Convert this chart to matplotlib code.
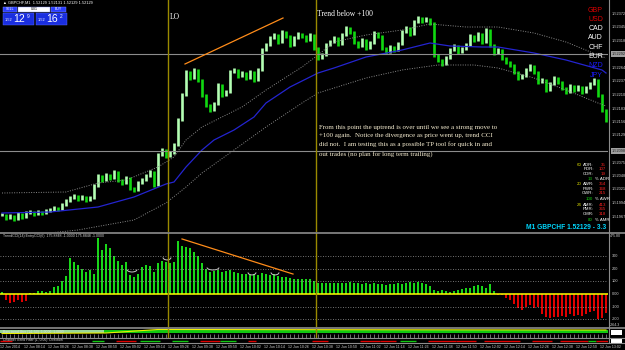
import numpy as np
import matplotlib.pyplot as plt
from matplotlib.patches import Rectangle, Arc
from matplotlib.lines import Line2D
from matplotlib.transforms import blended_transform_factory

plt.rcParams['font.family'] = ['Liberation Sans', 'DejaVu Sans']

W, H = 625, 350

# close prices, one bar every 4 px of the reference
closes = [
    1.51970, 1.51964, 1.51968, 1.51962, 1.51972, 1.51966, 1.51974, 1.51976, 1.51972, 1.51976,
    1.51974, 1.51978, 1.51980, 1.51984, 1.51982, 1.51990, 1.51998, 1.52004, 1.52008, 1.52002,
    1.52006, 1.52000, 1.52004, 1.52028, 1.52048, 1.52040, 1.52050, 1.52044, 1.52056, 1.52040,
    1.52034, 1.52044, 1.52024, 1.52020, 1.52034, 1.52040, 1.52048, 1.52056, 1.52030, 1.52090,
    1.52100, 1.52088, 1.52094, 1.52110, 1.52160, 1.52210, 1.52256, 1.52244, 1.52260, 1.52240,
    1.52210, 1.52190, 1.52180, 1.52192, 1.52230, 1.52210, 1.52216, 1.52256, 1.52260, 1.52248,
    1.52254, 1.52244, 1.52256, 1.52240, 1.52260, 1.52300, 1.52310, 1.52324, 1.52330, 1.52316,
    1.52336, 1.52328, 1.52310, 1.52324, 1.52332, 1.52328, 1.52320, 1.52330, 1.52304, 1.52284,
    1.52290, 1.52310, 1.52316, 1.52324, 1.52312, 1.52330, 1.52344, 1.52336, 1.52316, 1.52308,
    1.52320, 1.52304, 1.52314, 1.52334, 1.52328, 1.52304, 1.52296, 1.52306, 1.52300, 1.52312,
    1.52336, 1.52344, 1.52332, 1.52356, 1.52364, 1.52358, 1.52362, 1.52354, 1.52290, 1.52280,
    1.52272, 1.52284, 1.52300, 1.52308, 1.52296, 1.52302, 1.52310, 1.52328, 1.52320, 1.52332,
    1.52316, 1.52340, 1.52310, 1.52294, 1.52300, 1.52284, 1.52276, 1.52270, 1.52256, 1.52244,
    1.52248, 1.52260, 1.52268, 1.52256, 1.52236, 1.52240, 1.52220, 1.52232, 1.52244, 1.52236,
    1.52224, 1.52216, 1.52228, 1.52220, 1.52226, 1.52216, 1.52224, 1.52232, 1.52240, 1.52210,
    1.52180, 1.52160,
]

ma_idx = [0, 12, 24, 33, 41, 43, 46, 50, 53, 58, 63, 66, 72, 79, 83, 91, 100, 107, 112, 120, 124, 133, 141, 150, 151]
ma_price = [1.51974, 1.51976, 1.51986, 1.52006, 1.52032, 1.52036, 1.52066, 1.52100, 1.52120, 1.52140,
            1.52166, 1.52194, 1.52226, 1.52254, 1.52264, 1.52286, 1.52300, 1.52314, 1.52308, 1.52306,
            1.52306, 1.52294, 1.52280, 1.52260, 1.52254]

upper_idx = [0, 16, 24, 31, 39, 43, 46, 50, 55, 60, 66, 75, 79, 83, 91, 100, 107, 116, 124, 133, 141, 149, 151]
upper_price = [1.52014, 1.52016, 1.52034, 1.52040, 1.52066, 1.52086, 1.52120, 1.52146, 1.52166, 1.52186,
               1.52220, 1.52266, 1.52290, 1.52316, 1.52330, 1.52340, 1.52352, 1.52346, 1.52346, 1.52334,
               1.52316, 1.52290, 1.52284]

lower_idx = [0, 19, 33, 41, 46, 50, 58, 66, 75, 79, 83, 91, 100, 109, 118, 124, 133, 141, 149, 151]
lower_price = [1.51924, 1.51940, 1.51960, 1.51994, 1.52026, 1.52054, 1.52100, 1.52146, 1.52194, 1.52214,
               1.52224, 1.52244, 1.52260, 1.52270, 1.52270, 1.52264, 1.52244, 1.52220, 1.52194, 1.52188]

cci = [
    15, -50, -70, -60, -45, -65, -55, 10, 5, 25, 20, 15, 20, 55, 60, 100, 140, 280, 250, 230,
    200, 170, 190, 160, 440, 350, 390, 360, 300, 260, 230, 250, 150, 130, 160, 210, 230, 220, 170, 240,
    260, 250, 240, 250, 420, 380, 370, 360, 330, 300, 240, 200, 170, 180, 185, 175, 180, 185, 170, 165,
    160, 160, 150, 160, 150, 165, 160, 150, 155, 140, 130, 135, 125, 115, 120, 115, 120, 118, 100, 90,
    85, 90, 85, 90, 85, 90, 85, 95, 90, 85, 80, 85, 80, 85, 75, 80, 70, 75, 80, 85,
    80, 90, 95, 90, 95, 90, 80, 60, 30, 20, 30, 25, 15, 20, 30, 40, 50, 45, 60, 70,
    65, 50, 80, 20, -5, -10, -30, -50, -80, -110, -130, -100, -90, -110, -100, -160, -185, -190, -180, -185,
    -170, -185, -160, -175, -165, -170, -160, -140, -135, -200, -190, -150,
]

price_ticks = [1.52372, 1.52345, 1.52318, 1.52264, 1.52237, 1.52210, 1.52183, 1.52156,
               1.52129, 1.52075, 1.52048, 1.52021, 1.51994, 1.51967]
price_lines = [1.52292, 1.52098]
cci_levels = [300, 200, 100, -100, -200]
session_lines = [41.5, 78.5]

price_trend_x, price_trend_y = [45.75, 70.25], [1.52272, 1.52364]
cci_trend_x, cci_trend_y = [45, 72.75], [433, 157]
price_smiles = [(32.75, 1.52016, 3.75), (41.25, 1.52078, 2.5), (52, 1.52176, 6.25),
                (55.75, 1.52206, 2), (62.75, 1.52236, 3), (68.75, 1.52296, 2.5)]
cci_smiles = [(32.5, 173, 2.5), (41.25, 268, 2), (52.75, 189, 3), (62.5, 150, 2), (68.25, 150, 2)]

currencies = ['GBP', 'USD', 'CAD', 'AUD', 'CHF', 'EUR', 'NZD', 'JPY']
currency_colors = ['#e00000', '#e00000', 'white', 'white', 'white', 'white', '#1a1aff', '#1a1aff']

range_rows = [('60', 'ADR:', '35'), ('', 'PDR:', '107'), ('', 'CDR:', '19'), ('13', '% ADR', ''),
              ('20', 'AWR:', '354'), ('', 'PWR:', '168'), ('', 'CWR:', '215'), ('100', '% AWR', ''),
              ('24', 'AMR:', '413'), ('', 'PMR:', '365'), ('', 'CMR:', '318'), ('80', '% AMR', '')]

signal_runs = [(0, 2, -1), (23, 25, 1), (29, 33, -1), (35, 39, 1), (43, 46, 1), (50, 54, -1),
               (55, 58, 1), (62, 63, -1), (78, 81, -1), (90, 94, -1), (95, 98, -1), (100, 103, 1),
               (107, 113, -1), (114, 118, -1), (121, 129, -1), (133, 137, -1), (140, 146, -1),
               (147, 148, 1), (149, 151, -1)]

time_labels = ['12 Jun 2014', '12 Jun 08:14', '12 Jun 08:26', '12 Jun 08:38', '12 Jun 08:50',
               '12 Jun 09:02', '12 Jun 09:14', '12 Jun 09:26', '12 Jun 09:38', '12 Jun 09:50',
               '12 Jun 10:02', '12 Jun 10:14', '12 Jun 10:26', '12 Jun 10:38', '12 Jun 10:50',
               '12 Jun 11:02', '12 Jun 11:14', '12 Jun 11:26', '12 Jun 11:38', '12 Jun 11:50',
               '12 Jun 12:02', '12 Jun 12:14', '12 Jun 12:26', '12 Jun 12:38', '12 Jun 12:50',
               '12 Jun 13:02']

note = ("From this point the uptrend is over until we see a strong move to\n"
        "+100 again.  Notice the divergence as price went up, trend CCI\n"
        "did not.  I am testing this as a possible TP tool for quick in and\n"
        "out trades (no plan for long term trailing)")


def fx(x):
    return x / W


def fy(y):
    return 1 - y / H


def panel(top, bottom):
    ax = fig.add_axes([0, fy(bottom), fx(608), (bottom - top) / H])
    ax.set_facecolor('black')
    ax.set_xlim(-0.5, len(closes) - 0.5)
    ax.axis('off')
    return ax


def ftext(x, y, s, **kw):
    kw.setdefault('color', 'white')
    kw.setdefault('va', 'center')
    return fig.text(fx(x), fy(y), s, **kw)


def frect(x0, y0, x1, y1, **kw):
    fig.add_artist(Rectangle((fx(x0), fy(y1)), fx(x1 - x0), (y1 - y0) / H,
                             transform=fig.transFigure, **kw))


def fline(x0, y0, x1, y1, **kw):
    fig.add_artist(Line2D([fx(x0), fx(x1)], [fy(y0), fy(y1)], transform=fig.transFigure, **kw))


fig = plt.figure(figsize=(6.25, 3.5), dpi=100, facecolor='black')

# ---- price panel ----
ax = panel(0, 232)
ax.set_ylim(1.51936, 1.52400)
idx = np.arange(len(closes))
c = np.array(closes)
o = np.r_[c[0], c[:-1]]
up = c >= o
ax.vlines(idx[up], o[up] - 0.00002, c[up] + 0.00004, color='#b4ffb4', lw=1.9)
ax.vlines(idx[~up], c[~up] - 0.00004, o[~up] + 0.00002, color='#10d810', lw=1.9)
ax.plot(ma_idx, ma_price, color='#2424d0', lw=0.9)
ax.plot(upper_idx, upper_price, color='#8a8a8a', lw=0.7, ls=(0, (1, 1.5)))
ax.plot(lower_idx, lower_price, color='#8a8a8a', lw=0.7, ls=(0, (1, 1.5)))
for p in price_lines:
    ax.axhline(p, color='#8c8c8c', lw=0.8)
ax.plot(price_trend_x, price_trend_y, color='#ff8c1a', lw=0.9)
for sx, sy, sw in price_smiles:
    ax.add_patch(Arc((sx, sy + 0.00008), sw, 0.00016, theta1=200, theta2=340, color='#c8c8c8', lw=0.7))

tr = blended_transform_factory(ax.transAxes, ax.transData)
for p in price_ticks:
    ax.text(1.006, p, f'{p:.5f}', transform=tr, fontsize=2.8, color='#cfcfcf', va='center', clip_on=False)
for p in price_lines:
    ax.text(1.006, p, f'{p:.5f}', transform=tr, fontsize=2.8, color='#202020', va='center', clip_on=False,
            bbox=dict(boxstyle='square,pad=0.15', fc='#a0a0a0', ec='none'))

# ---- CCI panel ----
ax2 = panel(233, 327)
ax2.set_ylim(-260, 480)
cc = np.array(cci)
ax2.bar(idx, cc, width=0.7, color=np.where(cc >= 0, '#19d619', '#e00000'))
for lv in cci_levels:
    ax2.axhline(lv, color='#9a9a9a', lw=0.6, ls=(0, (1, 2)))
ax2.axhline(0, color='#ffff00', lw=1.1)
ax2.plot(cci_trend_x, cci_trend_y, color='#ff8c1a', lw=0.9)
for sx, sy, sw in cci_smiles:
    ax2.add_patch(Arc((sx, sy + 20), sw, 40, theta1=200, theta2=340, color='#c8c8c8', lw=0.7))
tr2 = blended_transform_factory(ax2.transAxes, ax2.transData)
for lv in cci_levels:
    ax2.text(1.006, lv, f'{lv}', transform=tr2, fontsize=2.8, color='#cfcfcf', va='center', clip_on=False)
ax2.text(1.006, 0, '0.00', transform=tr2, fontsize=2.8, color='#cfcfcf', va='center', clip_on=False)
ax2.text(1.003, 455, '475.80', transform=tr2, fontsize=2.6, color='#cfcfcf', va='center', clip_on=False)
ax2.text(1.003, -245, '-264.3', transform=tr2, fontsize=2.6, color='#cfcfcf', va='center', clip_on=False)
ax2.text(0.005, 0.985, 'TrendCCI(14) EntryCCI(6)  175.8848 -1.0000 175.8848 -1.0000',
         transform=ax2.transAxes, fontsize=2.6, color='#d0d0d0', va='top')

# ---- strip panels ----
ax3 = panel(328, 338)
ax3.set_ylim(0, 1)
ax3.vlines(idx, 0.05, 0.45, color='#9a9a9a', lw=0.5)
ax3.bar(idx, 0.3, bottom=0.5, width=0.9, color=np.where(idx < 26, '#9ad89a', '#10c810'))
ax3.plot([0, 26, 39, 151], [0.45, 0.5, 0.85, 0.8], color='#f0f000', lw=0.8)
ax3.text(0.005, 0.55, 'Bars trend filter (14, 50)  1.0000  1.0000', transform=ax3.transAxes,
         fontsize=2.4, color='#e0e0e0', va='center')

ax4 = panel(338, 343)
ax4.set_ylim(0, 1)
for s, e, sig in signal_runs:
    ax4.hlines(0.5, s - 0.5, e + 0.5, color='#10c810' if sig > 0 else '#e00000', lw=1.0)
ax4.text(0.005, 0.5, 'Channel Trend Filter (1, 0.00)  Direction', transform=ax4.transAxes,
         fontsize=2.4, color='#e0e0e0', va='center')

for a in (ax, ax2, ax3):
    for s in session_lines:
        a.axvline(s, color='#9a8a00', lw=1.0)

# time axis labels
trt = blended_transform_factory(ax4.transData, fig.transFigure)
for k, lab in enumerate(time_labels):
    ax4.text(6 * k - 0.4, fy(347), lab, transform=trt, fontsize=2.6, color='#cfcfcf', va='center',
             clip_on=False)
    ax4.add_artist(Line2D([6 * k - 0.5] * 2, [fy(343), fy(345)], transform=trt, color='#9a9a9a', lw=0.5))

# separators and frame
for y in (232.5, 327.5, 338, 343):
    fline(0, y, 625, y, color='#8c8c8c', lw=1.2 if y < 330 else 0.8)
fline(608.5, 0, 608.5, 343, color='#8c8c8c', lw=0.8)
frect(611, 330, 622, 335, fc='white', ec='none')
frect(611, 339, 622, 342.5, fc='white', ec='none')

# header and one click panel
ftext(3, 3, '\u25b2 GBPCHF,M1  1.52129 1.52131 1.52129 1.52129', fontsize=2.8)
frect(3, 6.5, 17, 12, fc='#2a3cff', ec='#8090ff', lw=0.3)
frect(18, 6.5, 50, 12, fc='white', ec='#8090ff', lw=0.3)
frect(51, 6.5, 66, 12, fc='#2a3cff', ec='#8090ff', lw=0.3)
ftext(10, 9.3, 'SELL', fontsize=2.5, ha='center')
ftext(34, 9.3, '0.01', fontsize=2.5, ha='center', color='black')
ftext(58.5, 9.3, 'BUY', fontsize=2.5, ha='center')
for x0, big, small in ((3, '12', '9'), (36, '16', '2')):
    frect(x0, 13, x0 + 31, 24.5, fc='#1a2ee0', ec='#6070ff', lw=0.3)
    ftext(x0 + 2, 20, '1.52', fontsize=2.8)
    ftext(x0 + 10, 19, big, fontsize=7.5)
    ftext(x0 + 23.5, 16, small, fontsize=3.5)

# annotations
ftext(170, 17, 'LO', fontsize=5.5, family='Liberation Serif')
ftext(317, 14, 'Trend below +100', fontsize=5.5, family='Liberation Serif')
ftext(319, 141, note, fontsize=4.95, family='Liberation Serif', color='#f5ecd0', linespacing=1.75)

for k, (cur, col) in enumerate(zip(currencies, currency_colors)):
    ftext(603, 10 + 9.3 * k, cur, fontsize=5, color=col, ha='right')

row_y = [165, 169.5, 174, 179, 184, 188.5, 193.5, 199, 205, 209.5, 214, 220]
for (num, key, val), y in zip(range_rows, row_y):
    if key.startswith('%'):
        ftext(593, y, num, fontsize=3.2, color='#10d010', ha='right')
        ftext(595, y, key, fontsize=3.2, color='white')
    else:
        ftext(582, y, num, fontsize=3.2, color='#d8d800', ha='right')
        ftext(594, y, key, fontsize=3.2, color='white', ha='right')
        ftext(606, y, val, fontsize=3.2, color='#ff2020', ha='right')

ftext(606, 227.5, 'M1 GBPCHF 1.52129 - 3.3', fontsize=4.8, color='#00d8ff', ha='right', weight='bold')

fig.savefig('out.png', dpi=100, facecolor='black')
